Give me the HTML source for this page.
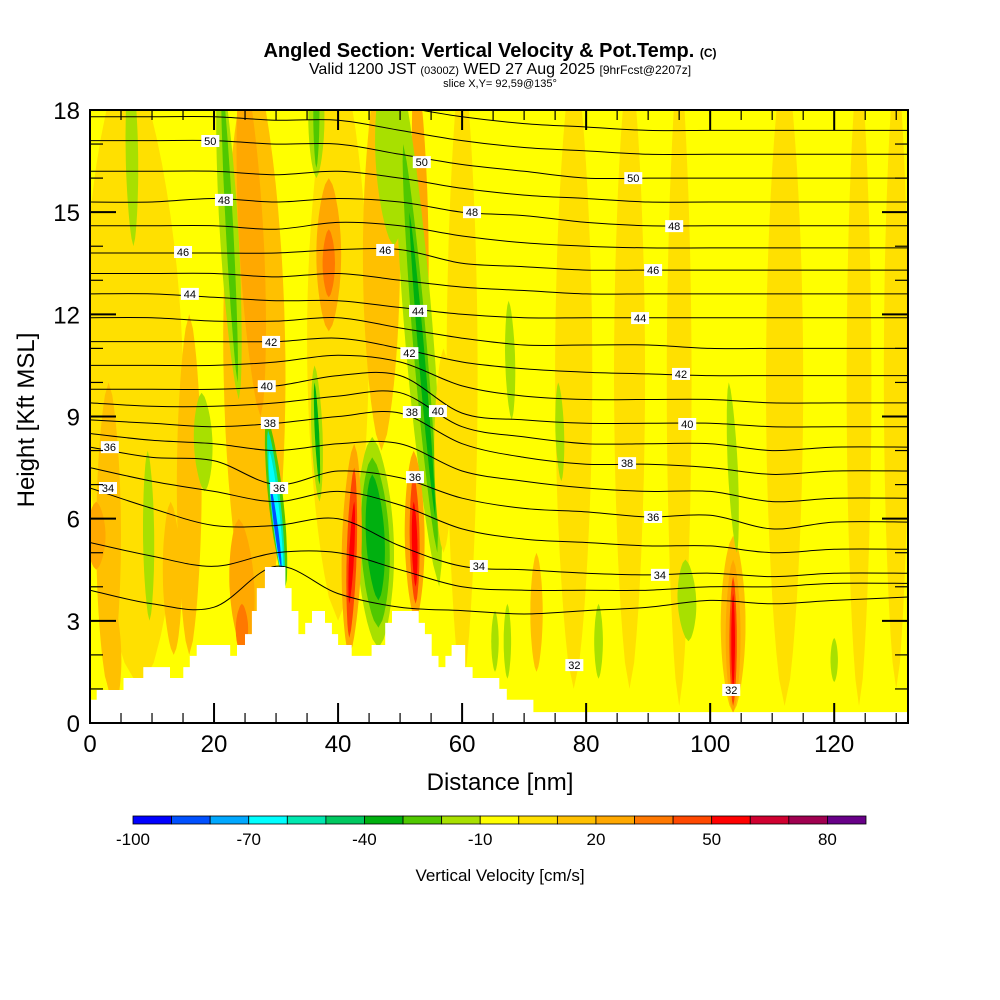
<!DOCTYPE html>
<html><head><meta charset="utf-8"><style>
body{margin:0;background:#fff}
svg{display:block;font-family:"Liberation Sans",sans-serif}
</style></head><body>
<svg id="chart" width="1000" height="1000" viewBox="0 0 1000 1000">
<rect width="1000" height="1000" fill="#fff"/>
<text x="490" y="57" text-anchor="middle" font-size="20" font-weight="bold">Angled Section: Vertical Velocity &amp; Pot.Temp. <tspan font-size="12">(C)</tspan></text>
<text x="500" y="74" text-anchor="middle" font-size="16">Valid 1200 JST <tspan font-size="11">(0300Z)</tspan> WED 27 Aug 2025 <tspan font-size="12">[9hrFcst@2207z]</tspan></text>
<text x="500" y="87" text-anchor="middle" font-size="11">slice X,Y= 92,59@135°</text>
<defs><clipPath id="plotclip"><rect x="90" y="110" width="818" height="613"/></clipPath></defs>
<g id="plot" clip-path="url(#plotclip)">
<rect x="90" y="110" width="818" height="613" fill="#ffff00"/>
<g id="field"></g>
<g id="contours"></g>
<path id="terrain" fill="#fff"/>
<g id="clabels"></g>
</g>
<rect x="90" y="110" width="818" height="613" fill="none" stroke="#000" stroke-width="2"/>
<g id="axes"></g>
<text x="500" y="790" text-anchor="middle" font-size="24">Distance [nm]</text>
<text transform="translate(34,420) rotate(-90)" text-anchor="middle" font-size="24">Height [Kft MSL]</text>
<g id="cbar"></g>
<text x="500" y="881" text-anchor="middle" font-size="17">Vertical Velocity [cm/s]</text>
</svg>
<script>
const cbEdges = [-100,-90,-80,-70,-60,-50,-40,-30,-20,-10,0,10,20,30,40,50,60,70,80,90];
const cbColors = ["#0000ff","#0050ff","#00a8ff","#00ffff","#00e8b0","#00c860","#00b010","#50c800","#a8e000","#ffff00","#ffe000","#ffc000","#ffa800","#ff7800","#ff4800","#ff0000","#d00030","#a00050","#680088"];
const cbLabels = [-100,-70,-40,-10,20,50,80];
// velocity features: bottom x (nm), top x (nm), bottom kft, top kft, half width (nm), value (cm/s)
const featXb = [8,27,40,47,78,87,95,112,124,60,130,16,3, 27.5,38.5,38.5,54,25,24.5,13.5,1,72,4, 24,23.8,18.5,9.6,36.5,36.5,7,49,56.3,56,55.7, 37,37, 46.5,46.5,46.5, 41.8,41.8,41.8, 52.5,52.5,52.5, 103.7,103.7,103.7,103.7, 31.5,31.3,31.1,30.9, 104.3,68,76,96.5,82,67.3,65.3,120,57];
const featXt = [6,26,40,47,78,87,95,112,124,60,130,16,3, 24.5,38.5,38.5,52.5,24,24.5,13,1,72,3, 20.8,21.2,18,9.3,36.5,36.5,6.5,48,49.5,50.5,51.5, 36.2,36.2, 45.5,45.5,45.5, 42.6,42.6,42.6, 52.2,52.2,52.2, 103.7,103.7,103.7,103.7, 28.5,28.7,28.9,29.1, 103,67.5,75.5,96,82,67.3,65.3,120,57];
const featY0 = [1,2,3,8,1,1,0.5,0.5,0.5,1,1,2,1, 9,11.5,12.5,11,2,2,2,4.5,1.5,0.5, 9.5,10,6.8,3,16,16.3,14,14,4,5,6, 6.5,7, 2.2,2.8,3.6, 2,2.5,3.5, 3,3.5,4, 0.3,0.3,0.5,1, 4,4.1,4.2,4.5, 5,8.9,7.1,2.4,1.3,1.3,1.5,1.2,5];
const featY1 = [19.5,19.5,19.5,19.5,19.5,19.5,19.5,19.5,19.5,19.5,19.5,12,10, 19.5,16,14.5,19.5,6,3.5,6.5,6.5,5,4, 19.5,19,9.7,8,19.5,19.5,19.5,19.5,19.5,17,15, 10.5,10, 8.4,7.8,7.3, 8.2,7.5,6.5, 8,7.3,6.5, 5.5,4.8,4.3,3.8, 9,8.6,8,7, 10,12.4,10,4.8,3.5,3.5,3.3,2.5,11];
const featW  = [8,5,5,3,3,2.5,2,3,2,2.5,2,2,2, 2,2,1,1.2,2,1,1.5,1.5,1,1.5, 1.5,0.6,1.5,0.9,1.3,0.5,1,2.5,2.3,1.1,0.5, 0.9,0.35, 3,2.3,1.5, 1.6,0.8,0.4, 1.6,0.8,0.45, 2,1.2,0.6,0.3, 1.2,0.8,0.6,0.3, 0.8,0.8,0.7,1.5,0.7,0.6,0.6,0.6,1.5];
const featV  = [5,15,5,15,5,5,5,5,5,5,5,15,15, 25,25,35,25,25,35,15,25,15,15, -15,-25,-15,-15,-15,-25,-15,-15,-15,-25,-35, -15,-35, -15,-25,-35, 25,45,55, 25,45,55, 15,25,45,55, -25,-55,-65,-85, -15,-15,-15,-15,-15,-15,-15,-15,5];
const terrX = [0,1.08,5.4,8.6,12.9,15.05,16.1,17.2,22.6,23.7,25,26.1,26.9,28.2,31.5,32.5,33.6,34.7,35.8,37.9,39,40,42.2,45.4,47.6,48.7,53,54,55.1,56.2,57.3,58.3,60.5,61.7,66,67.2,71.5,132];
const terrH = [0.68,0.97,1.32,1.64,1.32,1.64,1.97,2.29,1.97,2.29,2.61,3.29,3.96,4.58,3.96,3.29,2.61,2.94,3.29,2.94,2.61,2.29,1.97,2.29,2.94,3.29,2.94,2.61,1.97,1.64,1.97,2.29,1.64,1.32,1.0,0.68,0.32,0.32];
const ctNodes = [0,10,20,30,40,50,60,70,80,90,100,110,120,132];
const ctLevels = [32,33,34,35,36,37,38,39,40,41,42,43,44,45,46,47,48,49,50,51,52];
const ctHeights = [
[3.9,3.5,3.4,4.6,3.8,3.4,3.3,3.2,3.3,3.4,3.6,3.5,3.6,3.7],
[5.3,4.9,4.6,5.0,5.0,4.5,4.0,3.9,3.9,3.9,4.0,4.0,4.1,4.1],
[6.9,6.3,5.8,5.8,6.0,5.2,4.6,4.5,4.4,4.35,4.4,4.3,4.4,4.4],
[7.5,7.1,6.8,6.5,6.8,6.4,5.7,5.4,5.3,5.2,5.2,5.0,5.1,5.1],
[8.1,7.8,7.7,7.0,7.4,7.2,6.6,6.3,6.2,6.05,6.1,5.7,5.9,5.9],
[8.5,8.3,8.2,8.0,8.2,8.2,7.4,7.1,6.9,6.8,6.8,6.5,6.6,6.6],
[8.9,8.8,8.7,8.8,9.0,9.1,8.2,7.8,7.6,7.6,7.5,7.3,7.4,7.4],
[9.4,9.3,9.3,9.4,9.6,9.7,8.7,8.4,8.2,8.2,8.2,8.0,8.1,8.1],
[9.8,9.8,9.8,9.9,10.2,10.2,9.1,8.9,8.8,8.8,8.8,8.7,8.7,8.7],
[10.5,10.5,10.5,10.6,10.8,10.6,9.9,9.6,9.5,9.5,9.5,9.4,9.4,9.4],
[11.2,11.2,11.2,11.2,11.3,11.0,10.6,10.4,10.3,10.25,10.2,10.2,10.2,10.2],
[11.9,11.9,11.8,11.8,11.9,11.6,11.3,11.1,11.1,11.1,11.0,11.0,11.0,11.0],
[12.6,12.6,12.5,12.4,12.4,12.2,12.0,11.9,11.9,11.9,11.9,11.9,11.9,11.9],
[13.2,13.2,13.2,13.1,13.2,13.0,12.8,12.7,12.6,12.6,12.6,12.6,12.6,12.6],
[13.8,13.8,13.8,13.8,13.9,13.9,13.5,13.4,13.3,13.3,13.3,13.3,13.3,13.3],
[14.6,14.6,14.6,14.5,14.7,14.6,14.3,14.1,14.0,13.95,13.95,13.95,13.95,13.95],
[15.3,15.3,15.4,15.3,15.4,15.3,15.0,14.9,14.7,14.6,14.6,14.6,14.6,14.6],
[16.2,16.2,16.2,16.1,16.2,16.0,15.7,15.5,15.4,15.3,15.3,15.3,15.3,15.3],
[17.1,17.1,17.1,17.0,17.0,16.7,16.4,16.2,16.0,16.0,16.0,16.0,16.0,16.0],
[17.8,17.8,17.8,17.7,17.7,17.4,17.1,16.9,16.8,16.7,16.7,16.7,16.7,16.7],
[18.5,18.5,18.5,18.4,18.4,18.1,17.8,17.6,17.5,17.4,17.4,17.4,17.4,17.4]];
const lblText = [36,34,50,48,46,44,42,40,38,36,50,48,46,44,42,40,38,36,50,48,46,44,42,40,38,36,34,34,32,32];
const lblX = [3.2,2.9,19.4,21.6,15.0,16.1,29.2,28.5,29.0,30.5,53.5,61.6,47.6,52.9,51.5,56.1,51.9,52.4,87.6,94.2,90.8,88.7,95.3,96.3,86.6,90.8,62.7,91.9,78.1,103.4];
const lblY = [8.1,6.9,17.09,15.36,13.83,12.6,11.19,9.89,8.81,6.9,16.47,15.0,13.89,12.1,10.86,9.16,9.13,7.22,16.0,14.59,13.3,11.89,10.25,8.78,7.63,6.05,4.61,4.35,1.7,0.97];
const xTicks = [0,20,40,60,80,100,120];
const yTicks = [0,3,6,9,12,15,18];

const NS = "http://www.w3.org/2000/svg";
const X0=90, X1=908, Y0=723, Y1=110, XMAX=131.9, YMAX=18;
function sx(v){return X0+(X1-X0)*v/XMAX;}
function sy(v){return Y0-(Y0-Y1)*v/YMAX;}
function colorOf(v){let i=Math.floor((v+100)/10);i=Math.max(0,Math.min(cbColors.length-1,i));return cbColors[i];}
function mk(tag,attrs,parent){const e=document.createElementNS(NS,tag);for(const k in attrs)e.setAttribute(k,attrs[k]);parent.appendChild(e);return e;}

const field=document.getElementById('field');
for(let i=0;i<featV.length;i++){
  const N=24,L=[],R=[];
  for(let j=0;j<=N;j++){
    const t=j/N, y=featY0[i]+t*(featY1[i]-featY0[i]), xc=featXb[i]+t*(featXt[i]-featXb[i]);
    const hw=featW[i]*Math.pow(Math.sin(Math.PI*t),0.6);
    L.push(sx(xc-hw).toFixed(1)+','+sy(y).toFixed(1));
    R.unshift(sx(xc+hw).toFixed(1)+','+sy(y).toFixed(1));
  }
  const p=mk('polygon',{points:L.concat(R).join(' '),fill:colorOf(featV[i])},field);
  
  
}

const cg=document.getElementById('contours');
for(let k=0;k<ctLevels.length;k++){
  const pts=ctNodes.map((x,i)=>[sx(x),sy(ctHeights[k][i])]);
  let d='M'+pts[0][0].toFixed(1)+','+pts[0][1].toFixed(1);
  for(let i=0;i<pts.length-1;i++){
    const p0=pts[Math.max(0,i-1)],p1=pts[i],p2=pts[i+1],p3=pts[Math.min(pts.length-1,i+2)];
    const c1=[p1[0]+(p2[0]-p0[0])/6,p1[1]+(p2[1]-p0[1])/6],c2=[p2[0]-(p3[0]-p1[0])/6,p2[1]-(p3[1]-p1[1])/6];
    d+=' C'+c1.map(v=>v.toFixed(1)).join(',')+' '+c2.map(v=>v.toFixed(1)).join(',')+' '+p2[0].toFixed(1)+','+p2[1].toFixed(1);
  }
  const p=mk('path',{d:d,fill:'none',stroke:'#000','stroke-width':1},cg);
  
  
}

let td='M'+sx(0)+','+sy(0);
for(let i=0;i<terrX.length-1;i++){td+=' L'+sx(terrX[i]).toFixed(1)+','+sy(terrH[i]).toFixed(1)+' L'+sx(terrX[i+1]).toFixed(1)+','+sy(terrH[i]).toFixed(1);}
td+=' L'+sx(terrX[terrX.length-1])+','+sy(0)+' Z';
document.getElementById('terrain').setAttribute('d',td);

const lg=document.getElementById('clabels');
for(let i=0;i<lblText.length;i++){
  const x=sx(lblX[i]),y=sy(lblY[i]);
  const r=mk('rect',{x:x-9,y:y-6,width:18,height:12,fill:'#fff'},lg);
  
  
  const t=mk('text',{x:x,y:y+4,'text-anchor':'middle','font-size':11},lg);
  
  
  t.textContent=lblText[i];
}

const ag=document.getElementById('axes');
for(let v=0;v<=130;v+=5){
  const x=sx(v),maj=(v%20===0),len=maj?20:10;
  const b=mk('line',{x1:x,y1:Y0,x2:x,y2:Y0-len,stroke:'#000','stroke-width':maj?2:1.2},ag);
  
  
  const t=mk('line',{x1:x,y1:Y1,x2:x,y2:Y1+len,stroke:'#000','stroke-width':maj?2:1.2},ag);
  
  
}
for(let v=0;v<=18;v++){
  const y=sy(v),maj=(v%3===0),len=maj?26:13;
  const l=mk('line',{x1:X0,y1:y,x2:X0+len,y2:y,stroke:'#000','stroke-width':maj?2:1.2},ag);
  
  
  const r=mk('line',{x1:X1,y1:y,x2:X1-len,y2:y,stroke:'#000','stroke-width':maj?2:1.2},ag);
  
  
}
xTicks.forEach(v=>{
  const t=mk('text',{x:sx(v),y:752,'text-anchor':'middle','font-size':24},ag);
  
  
  t.textContent=v;
});
yTicks.forEach(v=>{
  const t=mk('text',{x:80,y:sy(v)+9,'text-anchor':'end','font-size':24},ag);
  
  
  t.textContent=v;
});

const cb=document.getElementById('cbar');
const CB0=133,CB1=866,CBY=816,CBH=8;
function cx(v){return CB0+(CB1-CB0)*(v-cbEdges[0])/(cbEdges[cbEdges.length-1]-cbEdges[0]);}
for(let i=0;i<cbColors.length;i++){
  const r=mk('rect',{x:cx(cbEdges[i]),y:CBY,width:cx(cbEdges[i+1])-cx(cbEdges[i]),height:CBH,fill:cbColors[i],stroke:'#000','stroke-width':0.8},cb);
  
  
}
cbLabels.forEach(v=>{
  const t=mk('text',{x:cx(v),y:845,'text-anchor':'middle','font-size':17},cb);
  
  
  t.textContent=v;
});
</script>
</body></html>
